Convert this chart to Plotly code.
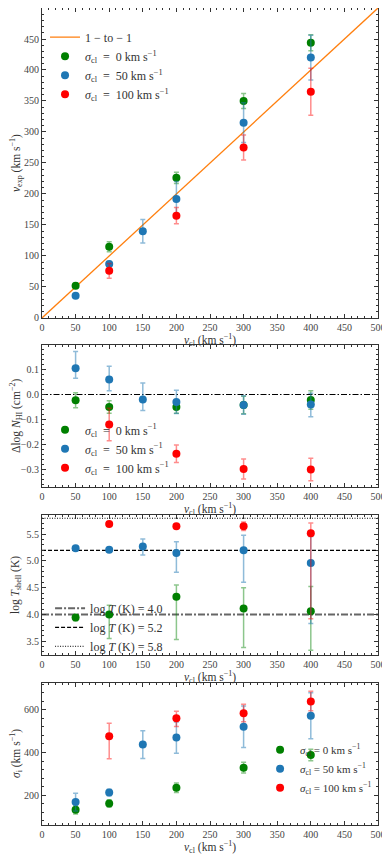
import plotly.graph_objects as go
from plotly.subplots import make_subplots

# x values (v_cl, km/s) per series
v_green = [50, 100, 200, 300, 400]
v_blue = [50, 100, 150, 200, 300, 400]
v_red = [100, 200, 300, 400]

# panel 1: v_exp
vexp_green = [52, 115, 226, 350, 444]
vexp_green_err = [4, 8, 9, 12, 13]
vexp_blue = [36, 87, 140, 192, 315, 420]
vexp_blue_err = [3, 4, 19, 28, 32, 36]
vexp_red = [76, 165, 275, 365]
vexp_red_err = [12, 13, 20, 38]
one_to_one = [0, 500]

# panel 2: delta log N_HI
dn_green = [-0.023, -0.05, -0.05, -0.042, -0.022]
dn_green_err = [0.03, 0.025, 0.025, 0.035, 0.037]
dn_blue = [0.105, 0.06, -0.02, -0.03, -0.042, -0.04]
dn_blue_up = [0.067, 0.053, 0.066, 0.047, 0.037, 0.045]
dn_blue_dn = [0.04, 0.045, 0.044, 0.046, 0.037, 0.049]
dn_red = [-0.12, -0.237, -0.298, -0.3]
dn_red_err = [0.065, 0.035, 0.04, 0.045]
zero_line = [0, 0]

# panel 3: log T_shell
lt_green = [3.94, 4.0, 4.33, 4.11, 4.06]
lt_green_up = [0.05, 0.17, 0.22, 0.39, 0.46]
lt_green_dn = [0.06, 0.45, 0.8, 0.73, 0.73]
lt_blue = [5.24, 5.21, 5.27, 5.15, 5.2, 4.96]
lt_blue_up = [0.02, 0.02, 0.14, 0.21, 0.28, 0.5]
lt_blue_dn = [0.02, 0.02, 0.16, 0.36, 0.6, 1.13]
lt_red = [5.69, 5.65, 5.65, 5.52]
lt_red_up = [0.02, 0.02, 0.08, 0.19]
lt_red_dn = [0.02, 0.02, 0.08, 1.6]
t_levels = [4.0, 5.2, 5.8]

# panel 4: sigma_i
si_green = [132, 162, 235, 329, 388]
si_green_err = [20, 17, 22, 25, 27]
si_blue = [168, 213, 437, 470, 521, 572]
si_blue_err = [42, 15, 65, 73, 97, 108]
si_red = [476, 560, 584, 639]
si_red_up = [61, 33, 42, 47]
si_red_dn = [105, 38, 40, 44]

x_range = [0, 500]

GREEN = "#008000"
BLUE = "#1f77b4"
RED = "#ff0000"
ERR = {GREEN: "rgba(0,128,0,0.45)", BLUE: "rgba(31,119,180,0.5)", RED: "rgba(255,0,0,0.45)"}
FONT = "Liberation Serif"

unit = " km s<sup>\u22121</sup>"
vals = ["0", "50", "100"]
names_wide = ["<i>\u03c3</i><sub>cl</sub>  =  " + v + unit for v in vals]
names = ["<i>\u03c3</i><sub>cl</sub> = " + v + unit for v in vals]

fig = make_subplots(rows=4, cols=1)


def err(up, dn=None):
    d = dict(type="data", array=up, thickness=1.5, width=2.5)
    if dn is not None:
        d.update(symmetric=False, arrayminus=dn)
    return d


def add_points(row, legend, x, y, color, name, e, show=True):
    e["color"] = ERR[color]
    fig.add_trace(go.Scatter(
        x=x, y=y, mode="markers", name=name,
        marker=dict(color=color, size=8),
        error_y=e, legend=legend, showlegend=show,
    ), row=row, col=1)


# panel 1
fig.add_trace(go.Scatter(x=one_to_one, y=one_to_one, mode="lines",
                         name="1 \u2212 to \u2212 1",
                         line=dict(color="#ff7f0e", width=1.3),
                         legend="legend"), row=1, col=1)
add_points(1, "legend", v_green, vexp_green, GREEN, names_wide[0], err(vexp_green_err))
add_points(1, "legend", v_blue, vexp_blue, BLUE, names_wide[1], err(vexp_blue_err))
add_points(1, "legend", v_red, vexp_red, RED, names_wide[2], err(vexp_red_err))

# panel 2
fig.add_trace(go.Scatter(x=x_range, y=zero_line, mode="lines",
                         line=dict(color="black", width=1, dash="6px,2px,1.5px,2px"),
                         showlegend=False, hoverinfo="skip"), row=2, col=1)
add_points(2, "legend2", v_green, dn_green, GREEN, names_wide[0], err(dn_green_err))
add_points(2, "legend2", v_blue, dn_blue, BLUE, names_wide[1], err(dn_blue_up, dn_blue_dn))
add_points(2, "legend2", v_red, dn_red, RED, names_wide[2], err(dn_red_err))

# panel 3
styles = [("#666666", "7px,2px,2px,2px", 2.0), ("black", "4px,2px", 1.2), ("black", "1px,1.5px", 1.0)]
for lvl, (c, d, w) in zip(t_levels, styles):
    fig.add_trace(go.Scatter(x=x_range, y=[lvl, lvl], mode="lines",
                             name=f"log <i>T</i> (K) = {lvl:.1f}",
                             line=dict(color=c, dash=d, width=w),
                             legend="legend3"), row=3, col=1)
add_points(3, "legend3", v_green, lt_green, GREEN, names[0], err(lt_green_up, lt_green_dn), False)
add_points(3, "legend3", v_blue, lt_blue, BLUE, names[1], err(lt_blue_up, lt_blue_dn), False)
add_points(3, "legend3", v_red, lt_red, RED, names[2], err(lt_red_up, lt_red_dn), False)

# panel 4
add_points(4, "legend4", v_green, si_green, GREEN, names[0], err(si_green_err))
add_points(4, "legend4", v_blue, si_blue, BLUE, names[1], err(si_blue_err))
add_points(4, "legend4", v_red, si_red, RED, names[2], err(si_red_up, si_red_dn))

# layout
domains = [[0.6206, 1.0], [0.4137, 0.5875], [0.2081, 0.3794], [0.0, 0.1738]]
y_ranges = [[0, 500], [-0.37, 0.198], [3.24, 5.86], [61, 725]]
y_dticks = [(50, 10), (0.1, 0.02), (0.5, 0.1), (200, 40)]
y_titles = ["<i>v</i><sub>exp</sub> (km s<sup>\u22121</sup>)",
            "\u0394log <i>N</i><sub>HI</sub> (cm<sup>\u22122</sup>)",
            "log <i>T</i><sub>shell</sub> (K)",
            "<i>\u03c3</i><sub>i</sub> (km s<sup>\u22121</sup>)"]
x_title = "<i>v</i><sub>cl</sub> (km s<sup>\u22121</sup>)"

axis_common = dict(showgrid=False, zeroline=False, showline=True, linecolor="#333",
                   linewidth=1, mirror="allticks", ticks="inside", ticklen=4,
                   tickcolor="#333", tickfont=dict(size=10, color="#444"),
                   automargin=False)

for i in range(4):
    fig.update_xaxes(range=x_range, dtick=50, tick0=0,
                     minor=dict(dtick=10, ticks="inside", ticklen=2, tickcolor="#333"),
                     row=i + 1, col=1, **axis_common)
    major, minor = y_dticks[i]
    fig.update_yaxes(range=y_ranges[i], domain=domains[i], dtick=major,
                     tick0=0 if i != 2 else 3.5,
                     minor=dict(dtick=minor, ticks="inside", ticklen=2, tickcolor="#333"),
                     row=i + 1, col=1, **axis_common)
    lo, hi = domains[i]
    fig.add_annotation(text=x_title, x=0.5, y=lo, xref="paper", yref="paper",
                       xanchor="center", yanchor="top", yshift=-12, showarrow=False,
                       font=dict(size=11.5, color="#333"))
    fig.add_annotation(text=y_titles[i], x=0, y=(lo + hi) / 2, xref="paper", yref="paper",
                       xanchor="center", yanchor="middle", xshift=-26, textangle=-90,
                       showarrow=False, font=dict(size=11.5, color="#333"))

fig.update_yaxes(tickformat=".1f", row=2, col=1)
fig.update_yaxes(tickformat=".1f", row=3, col=1)

leg = dict(bgcolor="rgba(0,0,0,0)", font=dict(family=FONT, size=12, color="#333"),
           xanchor="left", yanchor="top", itemwidth=30, tracegroupgap=0)

# page body adds an 8px offset, so the figure is sized to fit inside 390x857
fig.update_layout(
    width=382, height=849,
    margin=dict(l=34, r=12, t=0, b=32),
    paper_bgcolor="white", plot_bgcolor="white",
    font=dict(family=FONT, color="#333"),
    legend=dict(leg, x=0.009, y=0.982),
    legend2=dict(leg, x=0.009, y=0.5014),
    legend3=dict(leg, x=0.024, y=0.283),
    legend4=dict(leg, x=0.649, y=0.110, font=dict(family=FONT, size=11, color="#333")),
)

fig.write_html("out.html")
